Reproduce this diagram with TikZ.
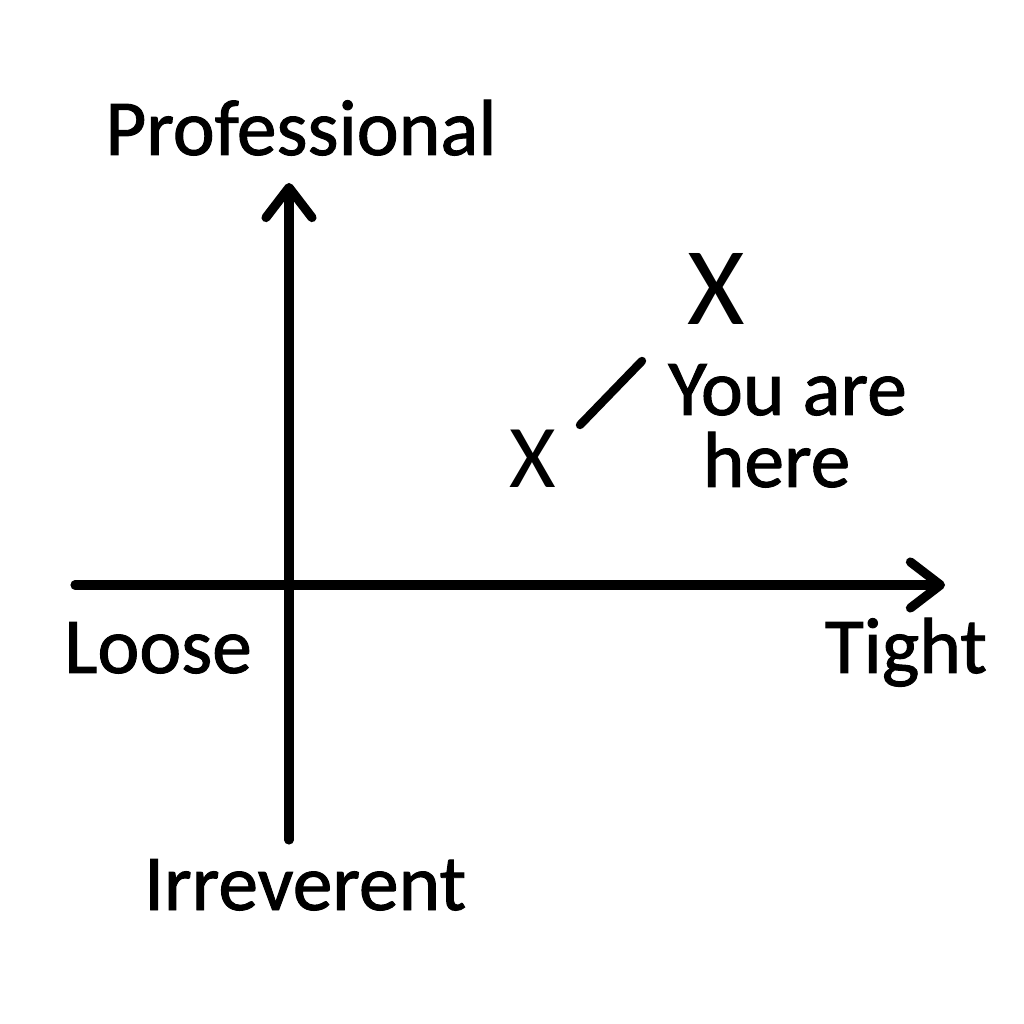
\documentclass[tikz,border=0pt]{standalone}
\usepackage{fontspec}
\setmainfont{Carlito}[BoldFont=Carlito, BoldFeatures={FakeBold=1.2}]
\usepackage{tikz}
\usetikzlibrary{arrows.meta, positioning}
\newcommand{\lblsize}{\fontsize{22.6}{27}\selectfont\bfseries}

\begin{document}
\begin{tikzpicture}[
    axis/.style={line width=2.6pt, line cap=round,
      -{Straight Barb[length=3mm, width=4.6mm, line width=2.6pt, line cap=round, line join=round]}},
    lbl/.style={anchor=base, inner sep=0pt, font=\lblsize},
    mark x/.style={anchor=base, inner sep=0pt}
  ]
      \useasboundingbox (0,0) rectangle (10.24,10.24);
      \fill[white] (0,0) rectangle (10.24,10.24);
      % axes
      \coordinate (ybot) at (2.89,1.84);
      \coordinate (ytop) at (2.89,8.41);
      \coordinate (xleft) at (0.75,4.39);
      \coordinate (xright) at (9.45,4.39);
      \draw[axis] (ybot) -- (ytop);
      \draw[axis] (xleft) -- (xright);
      % axis labels
      \node[lbl] (professional) at (3.01,8.69) {Professional};
      \node[lbl] (irreverent) at (3.05,1.14) {Irreverent};
      \node[lbl] (loose) at (1.58,3.51) {Loose};
      \node[lbl] (tight) at (9.06,3.51) {Tight};
      % the two marks
      \node[mark x, font=\fontsize{31.5}{36}\selectfont] (bigx) at (7.16,6.99) {X};
      \node[mark x, font=\fontsize{25.5}{30}\selectfont] (smallx) at (5.33,5.36) {X};
      \coordinate (slashlo) at (5.80,5.99);
      \coordinate (slashhi) at (6.42,6.63);
      \draw[line width=2.4pt, line cap=round] (slashlo) -- (slashhi);
      \node[lbl] (youare) at (7.875,6.09) {You are};
      \node[lbl] (here) at (7.765,5.37) {here};
    \end{tikzpicture}
\end{document}
